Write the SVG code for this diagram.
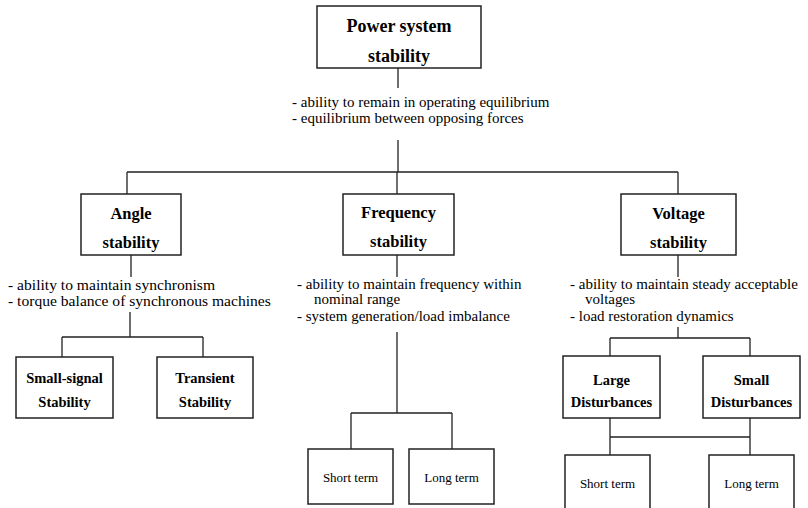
<svg xmlns="http://www.w3.org/2000/svg" width="808" height="508" viewBox="0 0 808 508">
<style>
.box{fill:#fff;stroke:#222;stroke-width:1.5}
.ln{stroke:#222;stroke-width:1.3;fill:none}
text{font-family:'Liberation Serif',Tinos,'Times New Roman',Times,'DejaVu Serif',serif}
.t{font-weight:bold;text-anchor:middle;fill:#000}
.t1{font-size:18px}
.t2{font-size:16.5px}
.t3{font-size:14.5px}
.d{font-size:15px;fill:#000}
.d2{font-size:15.6px;fill:#000}
.s{font-size:13px;text-anchor:middle;fill:#000}
</style>
<rect width="808" height="508" fill="#fff"/>
<g id="connectors">
<path class="ln" d="M398,68V88M398,140V172M127,172H678M127,172V194M397,172V194M678,172V194"/>
<path class="ln" d="M131,255V277M130,312V337M62,337H203M62,337V357M203,337V357"/>
<path class="ln" d="M397,255V277M397,332V413M351,413H452M351,413V449M452,413V449"/>
<path class="ln" d="M678,255V277M678,327V338M610,338H750M610,338V356M750,338V356"/>
<path class="ln" d="M610,418V455M750,418V455M610,437H750"/>
</g>
<g id="power-system-stability">
<rect class="box" x="317" y="6" width="164" height="62"/>
<text class="t t1" x="399" y="32">Power system</text>
<text class="t t1" x="399" y="62">stability</text>
</g>
<g id="power-desc">
<text class="d" x="292" y="107">- ability to remain in operating equilibrium</text>
<text class="d" x="292" y="123">- equilibrium between opposing forces</text>
</g>
<g id="angle-stability">
<rect class="box" x="81" y="194" width="100" height="61"/>
<text class="t t2" x="131" y="219">Angle</text>
<text class="t t2" x="131" y="248">stability</text>
</g>
<g id="angle-desc">
<text class="d2" x="8" y="290">- ability to maintain synchronism</text>
<text class="d2" x="8" y="306">- torque balance of synchronous machines</text>
</g>
<g id="frequency-stability">
<rect class="box" x="343" y="194" width="111" height="61"/>
<text class="t t2" x="398.5" y="218">Frequency</text>
<text class="t t2" x="398.5" y="247">stability</text>
</g>
<g id="frequency-desc">
<text class="d" x="297" y="289">- ability to maintain frequency within</text>
<text class="d" x="314" y="304">nominal range</text>
<text class="d" x="297" y="321">- system generation/load imbalance</text>
</g>
<g id="voltage-stability">
<rect class="box" x="621" y="194" width="115" height="61"/>
<text class="t t2" x="678.5" y="219">Voltage</text>
<text class="t t2" x="678.5" y="248">stability</text>
</g>
<g id="voltage-desc">
<text class="d" x="570" y="289">- ability to maintain steady acceptable</text>
<text class="d" x="585" y="304">voltages</text>
<text class="d" x="570" y="321">- load restoration dynamics</text>
</g>
<g id="small-signal">
<rect class="box" x="16" y="357" width="97" height="61"/>
<text class="t t3" x="64.5" y="383">Small-signal</text>
<text class="t t3" x="64.5" y="407">Stability</text>
</g>
<g id="transient">
<rect class="box" x="157" y="357" width="96" height="61"/>
<text class="t t3" x="205" y="383">Transient</text>
<text class="t t3" x="205" y="407">Stability</text>
</g>
<g id="freq-short">
<rect class="box" x="308" y="449" width="85" height="55"/>
<text class="s" x="350.5" y="482">Short term</text>
</g>
<g id="freq-long">
<rect class="box" x="409" y="449" width="85" height="55"/>
<text class="s" x="451.5" y="482">Long term</text>
</g>
<g id="large-disturbances">
<rect class="box" x="563" y="356" width="97" height="62"/>
<text class="t t3" x="611.5" y="385">Large</text>
<text class="t t3" x="611.5" y="407">Disturbances</text>
</g>
<g id="small-disturbances">
<rect class="box" x="703" y="356" width="97" height="62"/>
<text class="t t3" x="751.5" y="385">Small</text>
<text class="t t3" x="751.5" y="407">Disturbances</text>
</g>
<g id="volt-short">
<rect class="box" x="565" y="455" width="85" height="60"/>
<text class="s" x="607.5" y="488">Short term</text>
</g>
<g id="volt-long">
<rect class="box" x="709" y="455" width="85" height="60"/>
<text class="s" x="751.5" y="488">Long term</text>
</g>
</svg>
